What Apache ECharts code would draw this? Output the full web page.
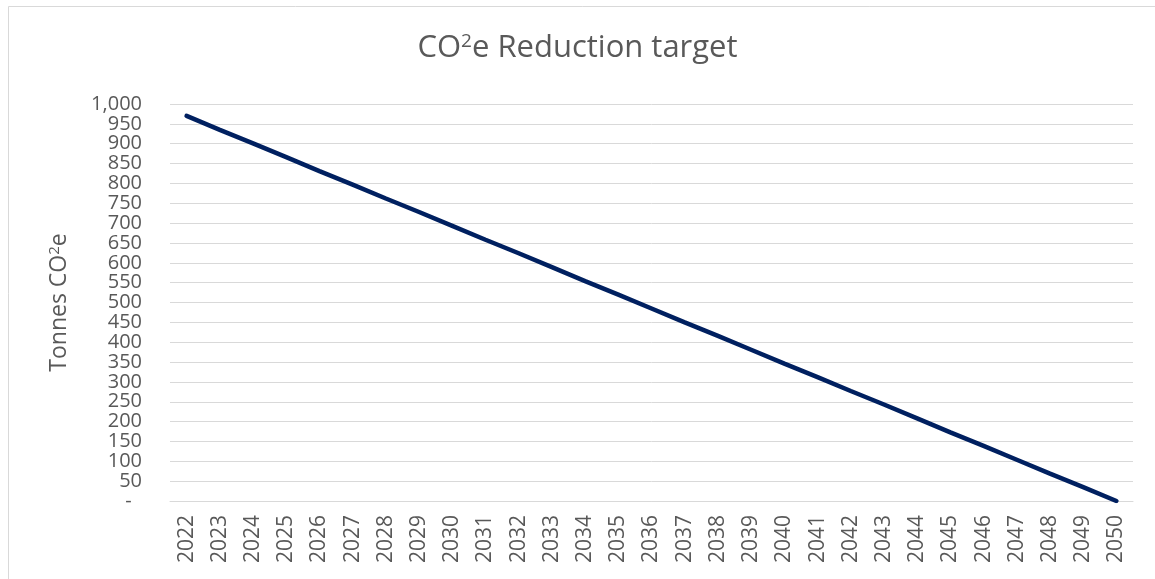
<!DOCTYPE html>
<html>
<head>
<meta charset="utf-8">
<script src="https://cdn.jsdelivr.net/npm/echarts@6/dist/echarts.min.js"></script>
<style>
  html, body { margin: 0; padding: 0; background: #fff; }
  #chart { width: 1155px; height: 579px; }
</style>
</head>
<body>
<div id="chart"></div>
<script>
// years on the x axis
var years = ['2022', '2023', '2024', '2025', '2026', '2027', '2028', '2029', '2030', '2031',
  '2032', '2033', '2034', '2035', '2036', '2037', '2038', '2039', '2040', '2041',
  '2042', '2043', '2044', '2045', '2046', '2047', '2048', '2049', '2050']

// tonnes CO2e target per year
var target = [970, 935, 901, 866, 831, 797, 762, 728, 693, 658,
  624, 589, 554, 520, 485, 450, 416, 381, 346, 312,
  277, 243, 208, 173, 139, 104, 69, 35, 0]

var font = '"Open Sans", Lato, sans-serif'
var grey = '#595959'

var myChart = echarts.init(document.getElementById('chart'))

var option = {
  backgroundColor: '#fff',
  animation: false,
  graphic: [
    {
      type: 'rect',
      shape: { x: 8.5, y: 6.5, width: 1200, height: 620 },
      style: { fill: 'none', stroke: '#d9d9d9', lineWidth: 1 }
    }
  ],
  title: {
    text: 'CO{sup|2}e Reduction target',
    left: 'center',
    top: 27,
    textStyle: {
      fontFamily: font,
      fontSize: 31,
      fontWeight: 'normal',
      color: grey,
      rich: {
        sup: { fontFamily: font, fontSize: 19, color: grey, padding: [0, 0, 13, 0] }
      }
    }
  },
  grid: {
    left: 170,
    right: 22,
    top: 104,
    bottom: 78
  },
  xAxis: {
    type: 'category',
    data: years,
    boundaryGap: true,
    axisLine: { show: true, lineStyle: { color: '#d9d9d9' } },
    axisTick: { show: false },
    axisLabel: {
      rotate: 90,
      interval: 0,
      margin: 14,
      fontFamily: font,
      fontSize: 21,
      color: grey
    }
  },
  yAxis: {
    type: 'value',
    min: 0,
    max: 1000,
    interval: 50,
    name: 'Tonnes CO{sup|2}e',
    nameLocation: 'middle',
    nameGap: 98,
    nameTextStyle: {
      fontFamily: font,
      fontSize: 23,
      color: grey,
      rich: {
        sup: { fontFamily: font, fontSize: 15, color: grey, padding: [0, 0, 10, 0] }
      }
    },
    axisLine: { show: false },
    axisTick: { show: false },
    splitLine: { lineStyle: { color: '#d9d9d9', width: 1 } },
    axisLabel: {
      margin: 28,
      fontFamily: font,
      fontSize: 20,
      lineHeight: 18,
      color: grey,
      showMinLabel: true,
      showMaxLabel: true,
      hideOverlap: false,
      formatter: function (v) {
        if (v === 0) return '-  '
        return v.toLocaleString('en-US')
      }
    }
  },
  series: [
    {
      name: 'Reduction target',
      type: 'line',
      data: target,
      symbol: 'none',
      lineStyle: { color: '#002060', width: 4.5, cap: 'round' }
    }
  ]
}

myChart.setOption(option)
</script>
</body>
</html>
